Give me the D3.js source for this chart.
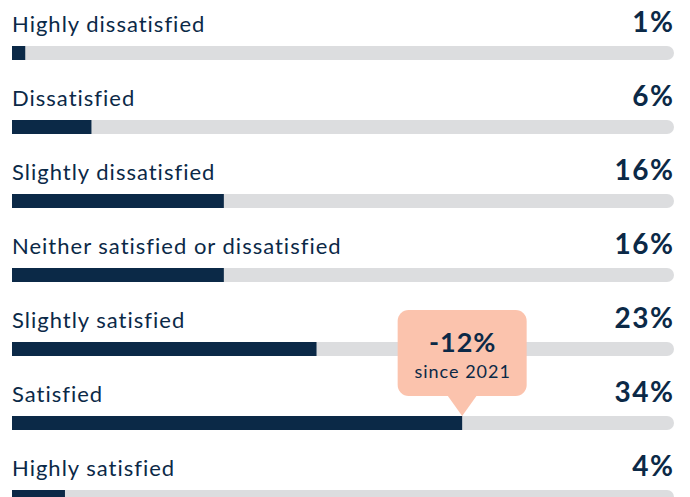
<!DOCTYPE html>
<html>
<head>
<meta charset="utf-8">
<script src="https://cdn.jsdelivr.net/npm/d3@7"></script>
<style>
  body { margin: 0; background: #fff; }
  text { font-family: Lato, "Noto Sans", sans-serif; }
</style>
</head>
<body>
<div id="chart"></div>
<script>
var categories = ['Highly dissatisfied', 'Dissatisfied', 'Slightly dissatisfied',
  'Neither satisfied or dissatisfied', 'Slightly satisfied', 'Satisfied', 'Highly satisfied'];
var values = [1, 6, 16, 16, 23, 34, 4];
var callout = { category: 'Satisfied', change: '-12%', note: 'since 2021' };

var width = 690, height = 497;
var navy = '#0b2947';

var svg = d3.select('#chart')
  .append('svg')
    .attr('width', width)
    .attr('height', height);

var x = d3.scaleLinear().domain([0, 50]).range([12, 674]);
var y = d3.scaleBand().domain(categories).range([0, 518]).padding(0);

var barH = 14;

var row = svg.selectAll('g.row')
  .data(categories)
  .enter().append('g')
    .classed('row', true)
    .attr('transform', function (d) { return 'translate(0,' + y(d) + ')'; });

// grey track, rounded on the right only
row.append('path')
  .attr('d', function () {
    var x0 = x(0), x1 = x(50), r = barH / 2, t = 46;
    return 'M' + x0 + ',' + t + 'H' + (x1 - r) +
      'A' + r + ',' + r + ' 0 0 1 ' + (x1 - r) + ',' + (t + barH) +
      'H' + x0 + 'Z';
  })
  .style('fill', '#dcdddf');

row.append('rect')
  .attr('x', x(0))
  .attr('y', 46)
  .attr('width', function (d, i) { return x(values[i]) - x(0); })
  .attr('height', barH)
  .style('fill', navy);

row.append('text')
  .attr('x', 12)
  .attr('y', 32)
  .style('font-size', '22px')
  .style('letter-spacing', '1px')
  .style('fill', navy)
  .text(function (d) { return d; });

row.append('text')
  .attr('x', 674.5)
  .attr('y', 32)
  .attr('text-anchor', 'end')
  .style('font-size', '28px')
  .style('font-weight', 'bold')
  .style('letter-spacing', '1.5px')
  .style('fill', navy)
  .text(function (d, i) { return values[i] + '%'; });

// callout bubble pointing at the end of the Satisfied bar
var ci = categories.indexOf(callout.category);
var cx = x(values[ci]);
var cy = y(callout.category);
var bw = 129, bh = 86, tip = 20;
var by = cy + 46 - tip - bh;

var cg = svg.append('g').attr('transform', 'translate(' + cx + ',' + by + ')');
cg.append('rect')
  .attr('x', -bw / 2)
  .attr('y', 0)
  .attr('width', bw)
  .attr('height', bh)
  .attr('rx', 11)
  .style('fill', '#fbc3ad');
cg.append('path')
  .attr('d', 'M-15,' + (bh - 1) + 'L15,' + (bh - 1) + 'L0,' + (bh + tip) + 'Z')
  .style('fill', '#fbc3ad');
cg.append('text')
  .attr('x', 0.5)
  .attr('y', 42)
  .attr('text-anchor', 'middle')
  .style('font-size', '27px')
  .style('font-weight', 'bold')
  .style('letter-spacing', '1px')
  .style('fill', navy)
  .text(callout.change);
cg.append('text')
  .attr('x', 0.5)
  .attr('y', 68)
  .attr('text-anchor', 'middle')
  .style('font-size', '18px')
  .style('letter-spacing', '1px')
  .style('fill', navy)
  .text(callout.note);
</script>
</body>
</html>
